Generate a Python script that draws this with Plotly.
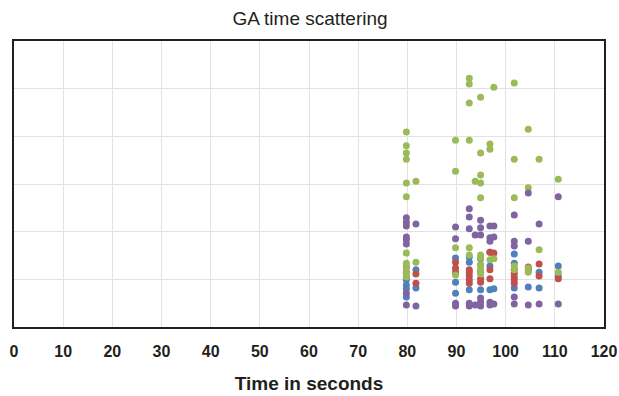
import plotly.graph_objects as go

# Time (s) columns and relative score values per series
blue_x = [79.8]*4 + [81.75]*2 + [89.8]*3 + [92.6]*3 + [94.9]*2 + [96.8]*3 + [97.6] + [101.75]*3 + [104.6] + [106.8]*2 + [110.7]*2
blue_y = [0.99, 0.88, 0.80, 0.63, 1.20, 0.82, 1.45, 0.94, 0.71, 1.47, 1.36, 0.78,
          1.43, 0.78, 1.57, 1.28, 0.78, 0.80, 1.53, 1.34, 0.82, 0.84, 1.15, 0.82, 1.28, 1.07]

red_x = [79.8]*3 + [81.75]*2 + [89.8]*3 + [92.6]*5 + [94.9]*4 + [96.8]*3 + [97.6] + [101.75]*5 + [104.6]*2 + [106.8]*2 + [110.7]
red_y = [1.26, 1.15, 1.05, 1.11, 0.92, 1.36, 1.24, 1.15, 1.15, 1.07, 0.99, 0.92, 1.20,
         1.30, 1.15, 1.01, 0.94, 1.57, 1.20, 1.01, 1.55, 1.13, 1.05, 0.99, 0.92, 1.20,
         1.26, 1.20, 1.32, 1.07, 1.01]

green_x = [79.8]*11 + [81.75]*2 + [89.8]*4 + [92.6]*6 + [93.8] + [94.9]*10 + [96.8]*3 + [97.6]*2 + [101.75]*5 + [104.6]*4 + [106.8]*2 + [110.7]*2
green_y = [4.09, 3.80, 3.65, 3.52, 3.02, 2.73, 1.55, 1.34, 1.24, 1.13, 1.05,
           3.06, 1.36,
           3.92, 3.27, 1.66, 1.09,
           5.22, 5.10, 4.70, 3.92, 1.66, 1.51,
           3.06,
           4.82, 3.65, 3.19, 3.02, 2.71, 1.51, 1.45, 1.30, 1.20, 1.11,
           3.84, 3.73, 1.41,
           5.03, 1.43,
           5.12, 3.52, 2.71, 1.28, 1.20,
           4.15, 2.92, 1.24, 1.15,
           3.52, 1.62,
           3.10, 1.15]

purple_x = [79.8]*8 + [81.75]*2 + [89.8]*4 + [92.6]*5 + [93.8]*2 + [94.9]*6 + [96.8]*5 + [97.6]*3 + [101.75]*5 + [104.6]*3 + [106.8]*2 + [110.7]*2
purple_y = [2.29, 2.20, 2.12, 1.89, 1.83, 1.74, 0.71, 0.46,
            2.16, 0.44,
            2.10, 1.85, 0.50, 0.44,
            2.48, 2.31, 2.06, 0.50, 0.44,
            1.93, 0.46,
            2.24, 2.08, 1.93, 0.61, 0.52, 0.44,
            2.12, 1.87, 1.80, 0.52, 0.46,
            1.89, 2.12, 0.48,
            2.35, 1.80, 1.70, 0.63, 0.48,
            2.81, 1.80, 0.46,
            2.16, 0.48,
            2.73, 0.48]

x_ticks = list(range(0, 121, 10))

series = [
    ("Series 1", blue_x, blue_y, "#4F81BD"),
    ("Series 2", red_x, red_y, "#C0504D"),
    ("Series 3", green_x, green_y, "#9BBB59"),
    ("Series 4", purple_x, purple_y, "#8064A2"),
]

fig = go.Figure()
for name, xs, ys, col in series:
    fig.add_trace(go.Scatter(x=xs, y=ys, mode="markers", name=name,
                             marker=dict(color=col, size=7, line=dict(width=0))))

font_family = "Liberation Sans, Arial, sans-serif"
fig.update_layout(
    width=619, height=396,
    margin=dict(l=14, r=15, t=41, b=69, autoexpand=False),
    paper_bgcolor="white", plot_bgcolor="white",
    showlegend=False,
    title=dict(text="GA time scattering", x=310 / 619, xanchor="center",
               y=1 - 18 / 396, yanchor="middle", yref="container",
               font=dict(family=font_family, size=19, color="#231f20")),
    xaxis=dict(range=[0, 120], tickvals=x_ticks, ticktext=[str(v) for v in x_ticks],
               automargin=False,
               showgrid=True, gridcolor="#e2e2e2", gridwidth=1,
               showline=True, linecolor="#231f20", linewidth=2, mirror=True,
               ticks="", ticklabelstandoff=9, zeroline=False,
               tickfont=dict(family=font_family, size=16, color="#231f20", weight="bold"),
               title=dict(text="<b>Time in seconds</b>", standoff=17,
                          font=dict(family=font_family, size=19, color="#231f20"))),
    yaxis=dict(range=[0, 6], dtick=1, showticklabels=False, automargin=False,
               showgrid=True, gridcolor="#e2e2e2", gridwidth=1,
               showline=True, linecolor="#231f20", linewidth=2, mirror=True,
               ticks="", zeroline=False),
)

fig.write_html("out.html", config={"displayModeBar": False},
               post_script="document.body.style.margin='0';document.body.style.overflow='hidden';")
